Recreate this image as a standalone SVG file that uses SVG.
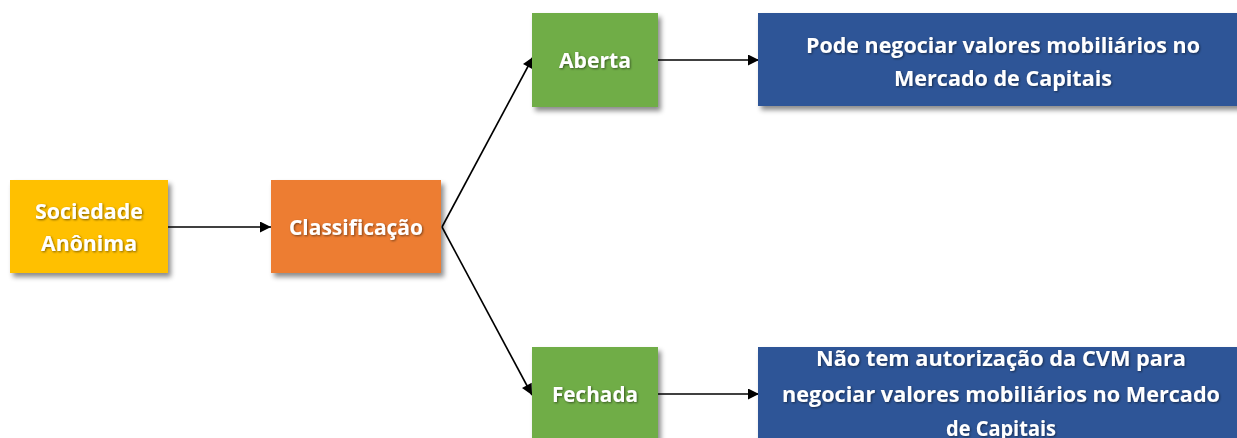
<svg xmlns="http://www.w3.org/2000/svg" width="1237" height="438" viewBox="0 0 1237 438">
<style>
.t{font-family:"Open Sans","Liberation Sans",sans-serif;font-weight:700;fill:#fff;text-anchor:middle;font-size:22px}
.c{stroke:#000;stroke-width:1.6;fill:none}
</style>
<defs>
<filter id="sh" x="-10%" y="-10%" width="130%" height="140%">
<feDropShadow dx="3" dy="4" stdDeviation="2.5" flood-color="#000" flood-opacity="0.45"/>
</filter>
<filter id="ts" x="-5%" y="-20%" width="110%" height="150%">
<feDropShadow dx="1" dy="1" stdDeviation="0.8" flood-color="#000" flood-opacity="0.5"/>
</filter>
<marker id="ah" viewBox="0 0 10 10" refX="10" refY="5" markerWidth="12" markerHeight="11" markerUnits="userSpaceOnUse" orient="auto">
<path d="M0,0 L10,5 L0,10 z" fill="#000"/>
</marker>
</defs>
<rect width="1237" height="438" fill="#fff"/>
<g id="connectors">
<line class="c" x1="168" y1="227" x2="271" y2="227" marker-end="url(#ah)"/>
<line class="c" x1="442" y1="227" x2="533" y2="57" marker-end="url(#ah)"/>
<line class="c" x1="442" y1="227" x2="532" y2="395" marker-end="url(#ah)"/>
<line class="c" x1="658" y1="60" x2="759" y2="60" marker-end="url(#ah)"/>
<line class="c" x1="658" y1="394" x2="759" y2="394" marker-end="url(#ah)"/>
</g>
<g id="sociedade">
<rect x="10" y="180" width="158" height="93" fill="#FFC000" filter="url(#sh)"/>
<g filter="url(#ts)"><text class="t" x="89" y="219" textLength="108" lengthAdjust="spacingAndGlyphs">Sociedade</text><text class="t" x="89" y="251" textLength="96" lengthAdjust="spacingAndGlyphs">Anônima</text></g>
</g>
<g id="classificacao">
<rect x="271" y="180" width="170" height="93" fill="#ED7D31" filter="url(#sh)"/>
<g filter="url(#ts)"><text class="t" x="356" y="235" textLength="134" lengthAdjust="spacingAndGlyphs">Classificação</text></g>
</g>
<g id="aberta">
<rect x="532" y="13" width="126" height="94" fill="#70AD47" filter="url(#sh)"/>
<g filter="url(#ts)"><text class="t" x="595" y="68" textLength="72" lengthAdjust="spacingAndGlyphs">Aberta</text></g>
</g>
<g id="fechada">
<rect x="532" y="347" width="126" height="100" fill="#70AD47" filter="url(#sh)"/>
<g filter="url(#ts)"><text class="t" x="595" y="402" textLength="86" lengthAdjust="spacingAndGlyphs">Fechada</text></g>
</g>
<g id="pode">
<rect x="758" y="13" width="485" height="93" fill="#2F5597" filter="url(#sh)"/>
<g filter="url(#ts)"><text class="t" x="1003" y="53" textLength="394" lengthAdjust="spacingAndGlyphs">Pode negociar valores mobiliários no</text><text class="t" x="1003" y="86" textLength="218" lengthAdjust="spacingAndGlyphs">Mercado de Capitais</text></g>
</g>
<g id="naotem">
<rect x="758" y="347" width="485" height="100" fill="#2F5597" filter="url(#sh)"/>
<g filter="url(#ts)"><text class="t" x="1001" y="366" textLength="370" lengthAdjust="spacingAndGlyphs">Não tem autorização da CVM para</text><text class="t" x="1001" y="402" textLength="438" lengthAdjust="spacingAndGlyphs">negociar valores mobiliários no Mercado</text><text class="t" x="1001" y="436" textLength="110" lengthAdjust="spacingAndGlyphs">de Capitais</text></g>
</g>
</svg>
